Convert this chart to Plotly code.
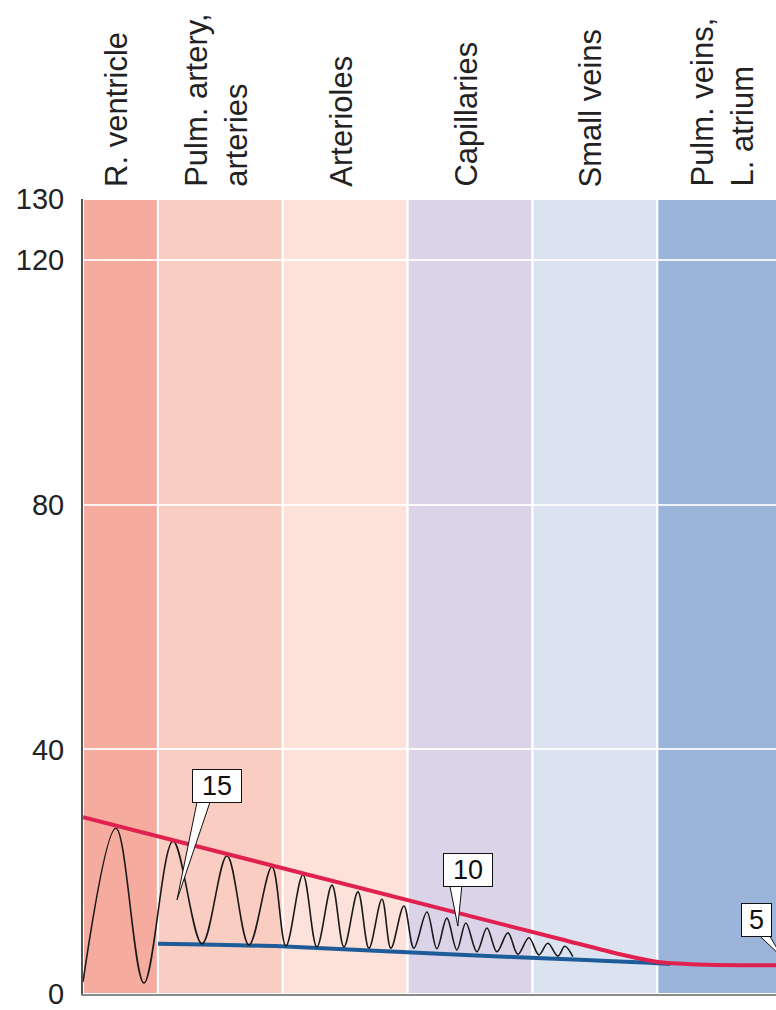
import plotly.graph_objects as go

# ---------------- data ----------------
segments = ["R. ventricle", "Pulm. artery,<br>arteries", "Arterioles",
            "Capillaries", "Small veins", "Pulm. veins,<br>L. atrium"]
segment_edges = [0.0, 0.6, 1.6, 2.6, 3.6, 4.6, 5.7]
segment_colors = ["#F5AC9F", "#F9CDC2", "#FCE2DA", "#DBD3E8", "#DCE3F0", "#9BB4D9"]

y_ticks = [0, 40, 80, 120, 130]

# pulsatile pressure trace (peaks and troughs)
wave_x = [0.000, 0.264, 0.488, 0.721, 0.953, 1.153, 1.329, 1.513, 1.625, 1.761,
          1.873, 1.994, 2.090, 2.202, 2.290, 2.394, 2.466, 2.570, 2.650, 2.754,
          2.834, 2.914, 2.994, 3.066, 3.155, 3.235, 3.315, 3.403, 3.483, 3.571,
          3.651, 3.723, 3.803, 3.859, 3.923]
wave_y = [2.0, 27.1, 1.8, 25.0, 8.2, 22.6, 8.0, 20.8, 7.85, 19.5,
          7.7, 17.8, 7.7, 16.7, 7.5, 15.5, 7.5, 14.4, 7.5, 13.4,
          7.4, 12.4, 7.2, 11.6, 6.9, 10.8, 6.9, 10.0, 6.5, 9.2,
          6.4, 8.3, 6.2, 7.8, 6.1]

# systolic envelope (red) and diastolic envelope (blue)
sys_x = [0.0, 3.82, 4.3, 4.62, 5.0, 5.7]
sys_y = [28.9, 9.0, 6.5, 5.2, 4.8, 4.7]
dia_x = [0.6, 1.58, 3.02, 3.98, 4.54, 4.7]
dia_y = [8.2, 7.8, 6.4, 5.6, 5.1, 4.9]

# mean pressure callouts
callout_text = ["15", "10", "5"]
callout_tip_x = [0.753, 3.002, 5.60]
callout_tip_y = [15.4, 11.1, 6.0]
callout_box_x = [1.073, 3.082, 5.396]
callout_box_y = [34.0, 20.3, 12.1]
callout_box_w = [46, 46, 27]
callout_base_x0 = [0.913, 2.938, 5.42]
callout_base_x1 = [1.017, 3.034, 5.50]

# ---------------- figure ----------------
PX_PER_UNIT_Y = 795 / 130.0
BOX_H = 30
FONT = "Liberation Sans, Arial, Helvetica, sans-serif"

fig = go.Figure()

shapes = []
for i, c in enumerate(segment_colors):
    shapes.append(dict(type="rect", xref="x", yref="y",
                       x0=segment_edges[i], x1=segment_edges[i + 1], y0=0, y1=130,
                       fillcolor=c, line=dict(color="white", width=2), layer="below"))

fig.add_trace(go.Scatter(x=dia_x, y=dia_y, mode="lines",
                         line=dict(color="#1D5C98", width=4, shape="spline", smoothing=0.6),
                         hoverinfo="skip", showlegend=False))
fig.add_trace(go.Scatter(x=wave_x, y=wave_y, mode="lines",
                         line=dict(color="#1a1a1a", width=1.6, shape="spline", smoothing=1.0),
                         hoverinfo="skip", showlegend=False))
fig.add_trace(go.Scatter(x=sys_x, y=sys_y, mode="lines",
                         line=dict(color="#E0214F", width=4, shape="spline", smoothing=0.6),
                         hoverinfo="skip", showlegend=False))

annotations = []
for i, name in enumerate(segments):
    xc = (segment_edges[i] + segment_edges[i + 1]) / 2
    annotations.append(dict(x=xc, y=1, xref="x", yref="paper", text=name,
                            textangle=-90, showarrow=False, xanchor="center",
                            yanchor="bottom", yshift=10, xshift=-4, align="left",
                            font=dict(family=FONT, size=31, color="#222")))

for i, t in enumerate(callout_text):
    bottom = callout_box_y[i] - (BOX_H / 2 + 1) / PX_PER_UNIT_Y
    shapes.append(dict(type="path", xref="x", yref="y",
                       path=f"M {callout_base_x0[i]},{bottom} L {callout_tip_x[i]},{callout_tip_y[i]} "
                            f"L {callout_base_x1[i]},{bottom} Z",
                       fillcolor="white", line=dict(color="#111", width=1), layer="above"))
    annotations.append(dict(x=callout_box_x[i], y=callout_box_y[i], xref="x", yref="y",
                            text=t, showarrow=False, bgcolor="white",
                            bordercolor="#111", borderwidth=1, borderpad=1,
                            width=callout_box_w[i], height=BOX_H,
                            font=dict(family=FONT, size=27, color="#111")))

fig.update_layout(
    width=776, height=1010,
    margin=dict(l=83, r=0, t=199, b=16),
    paper_bgcolor="white", plot_bgcolor="white",
    shapes=shapes, annotations=annotations,
    xaxis=dict(range=[0, 5.55], showgrid=False, zeroline=False, showticklabels=False,
               ticks="", showline=True, linecolor="#8a8a8a", linewidth=2, fixedrange=True),
    yaxis=dict(range=[0, 130], tickvals=y_ticks, ticktext=[str(v) for v in y_ticks],
               showgrid=True, gridcolor="rgba(255,255,255,0.85)", gridwidth=2,
               zeroline=False, showline=True, linecolor="#555", linewidth=2,
               ticks="outside", ticklen=11, tickcolor="rgba(0,0,0,0)",
               ticklabeloverflow="allow",
               tickfont=dict(family=FONT, size=29, color="#222"),
               fixedrange=True),
)

fig.write_html("out.html", config={"displayModeBar": False},
               post_script="document.body.style.margin='0px';document.body.style.overflow='hidden';")
